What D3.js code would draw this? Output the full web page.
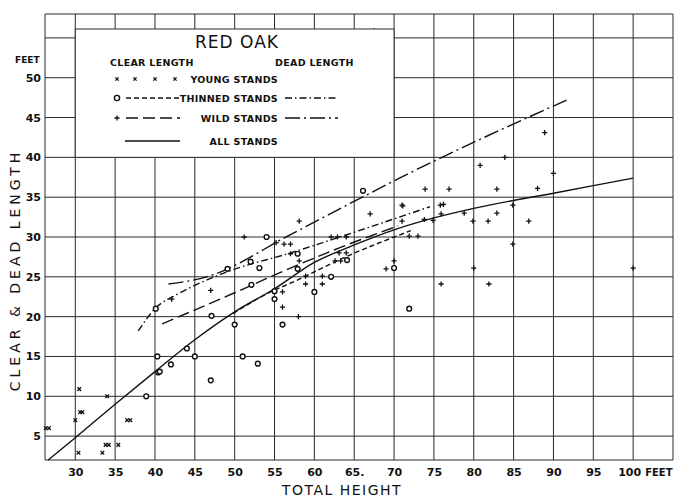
<!DOCTYPE html>
<html>
<head>
<meta charset="utf-8">
<script src="https://cdn.jsdelivr.net/npm/d3@7"></script>
<style>
  body { margin: 0; background: #fff; }
  svg { display: block; }
  .tick text { font-family: "DejaVu Sans", sans-serif; font-weight: bold; font-size: 11px; fill: #111; }
</style>
</head>
<body>
<div id="chart"></div>
<script>
// Tick values
const xTicks = [30, 35, 40, 45, 50, 55, 60, 65, 70, 75, 80, 85, 90, 95, 100];
const yTicks = [5, 10, 15, 20, 25, 30, 35, 40, 45, 50];
const yGrid = [5, 10, 15, 20, 25, 30, 35, 40, 45, 50, 55];

// Points: [total height, length]
const youngStands = [[26.3, 6], [26.7, 6], [30, 7], [30.5, 10.9], [30.6, 8], [30.9, 8], [30.4, 2.9],
    [33.4, 2.9], [33.8, 3.9], [34.2, 3.9], [35.4, 3.9], [34, 10], [36.5, 7], [36.9, 7]];

const thinnedStands = [[38.9, 10], [40.3, 15], [40.4, 13], [40.6, 13.1], [42, 14], [44, 16], [45, 15],
    [47, 12], [51, 15], [52.9, 14.1], [47.1, 20.1], [50, 19], [56, 19], [40.1, 21], [49.1, 26],
    [52, 26.9], [53.1, 26.1], [52.1, 24], [54, 30], [55, 23.2], [55, 22.2], [57.9, 27.9], [57.9, 26],
    [60, 23.1], [62.1, 25], [64.1, 27.1], [66.1, 35.8], [70, 26.1], [71.9, 21]];

const wildStands = [[42.1, 22.2], [47, 23.3], [51.2, 30], [55.2, 29.3], [56.2, 29.1], [57, 29.1],
    [57, 27.9], [58.1, 32], [58.1, 27], [56, 23.1], [56, 21.2], [58, 20], [58.9, 25.1], [58.9, 24.1],
    [61, 25.1], [61, 24.1], [62.1, 30], [62.9, 30], [64, 30], [63.1, 28], [64, 28], [62.6, 27],
    [63.3, 27], [67, 32.9], [69, 26], [70, 27], [71.1, 33.9], [71, 32], [73, 30.1], [71.9, 30.1],
    [73.8, 32.2], [71, 34], [73.9, 36], [76.9, 36], [82.9, 36], [88, 36.1], [75.8, 34], [76.2, 34.1],
    [75.9, 32.9], [78.8, 33], [82.9, 33], [79.9, 32], [81.8, 32], [86.9, 32], [84.9, 34], [84.9, 29.1],
    [74.9, 32.1], [80, 26.1], [100, 26.1], [75.9, 24.1], [81.9, 24.1], [80.8, 39], [83.9, 40],
    [88.9, 43.1], [90, 38], [67.5, 55.9]];

// Curves
const allStands = [[26.6, 2.0], [30, 4.8], [35, 9.0], [40, 13.1], [45, 17.1], [50, 20.6], [55, 23.5],
    [60, 26.8], [65, 29.0], [70, 30.9], [75, 32.4], [80, 33.6], [90, 35.5], [100, 37.4]];
const thinnedClear = [[49.8, 20.4], [54.5, 23.1], [57, 24.2], [64.6, 27.8], [72.1, 30.8]];
const thinnedDead = [[37.9, 18.2], [40, 21.0], [43, 22.9], [49, 25.6], [57, 28.0], [65, 30.6], [74.5, 33.8]];
const wildClear = [[40.9, 19.1], [50, 23.0], [57, 26.1], [63.3, 28.7], [70.5, 31.4]];
const wildDead = [[41.7, 24.1], [46.5, 25.0], [57, 30.3], [63.3, 33.6], [72.5, 38.3], [91.9, 47.3]];

const width = 677, height = 500;
const ink = "#111";

const svg = d3.select("#chart").append("svg")
    .attr("width", width)
    .attr("height", height);

// Scales
const xScale = d3.scaleLinear().domain([26.2, 105]).range([45, 673]);
const yScale = d3.scaleLinear().domain([2, 58]).range([460, 14]);

// Grid
const grid = svg.append("g").attr("stroke", "#2a2a2a").attr("stroke-width", 1);
grid.selectAll(".vline")
    .data(xTicks.concat([26.2, 105]))
    .enter().append("line")
    .attr("x1", d => xScale(d)).attr("x2", d => xScale(d))
    .attr("y1", yScale(2)).attr("y2", yScale(58));
grid.selectAll(".hline")
    .data(yGrid.concat([2, 58]))
    .enter().append("line")
    .attr("x1", xScale(26.2)).attr("x2", xScale(105))
    .attr("y1", d => yScale(d)).attr("y2", d => yScale(d));

// X axis labels
const xAxis = svg.append("g")
    .attr("transform", "translate(0," + yScale(2) + ")")
    .call(d3.axisBottom(xScale).tickValues(xTicks).tickSize(0).tickPadding(8)
        .tickFormat(d => d === 65 ? "65." : d));
xAxis.select(".domain").remove();
xAxis.selectAll(".tick text").filter(d => d === 100).attr("x", -4);

// unit after the last tick label
svg.append("text")
    .attr("x", xScale(100) + 12).attr("y", 476)
    .style("font-family", "DejaVu Sans").style("font-weight", "bold").style("font-size", "10px")
    .attr("fill", ink)
    .text("FEET");

// Y axis labels
const yAxis = svg.append("g")
    .attr("transform", "translate(" + xScale(26.2) + ",0)")
    .call(d3.axisLeft(yScale).tickValues(yTicks).tickSize(0).tickPadding(4));
yAxis.select(".domain").remove();

svg.append("text")
    .attr("x", 15).attr("y", 63)
    .style("font-family", "DejaVu Sans").style("font-weight", "bold").style("font-size", "9px")
    .attr("fill", ink)
    .text("FEET");

// Axis titles
svg.append("text")
    .attr("x", 342).attr("y", 495)
    .attr("text-anchor", "middle")
    .style("font-family", "DejaVu Sans").style("font-size", "14px").style("letter-spacing", "1.5px")
    .attr("fill", ink)
    .text("TOTAL HEIGHT");

svg.append("text")
    .attr("transform", "translate(20,270) rotate(-90)")
    .attr("text-anchor", "middle")
    .style("font-family", "DejaVu Sans").style("font-size", "14px").style("letter-spacing", "4px")
    .attr("fill", ink)
    .text("CLEAR & DEAD LENGTH");

// Line styles
const line = d3.line().x(d => xScale(d[0])).y(d => yScale(d[1])).curve(d3.curveMonotoneX);
const styles = {
    all: null,
    thinnedClear: "5,3",
    thinnedDead: "7,3,1.5,3",
    wildClear: "12,5",
    wildDead: "15,4,2,4"
};
const curves = [
    [allStands, styles.all],
    [thinnedClear, styles.thinnedClear],
    [thinnedDead, styles.thinnedDead],
    [wildClear, styles.wildClear],
    [wildDead, styles.wildDead]
];
svg.append("g").selectAll("path")
    .data(curves)
    .enter().append("path")
    .attr("d", d => line(d[0]))
    .attr("fill", "none")
    .attr("stroke", ink)
    .attr("stroke-width", 1.4)
    .attr("stroke-dasharray", d => d[1]);

// Marker helpers
function drawX(g, px, py, s) {
    g.append("path")
        .attr("d", `M${px - s},${py - s}L${px + s},${py + s}M${px + s},${py - s}L${px - s},${py + s}`)
        .attr("stroke", ink).attr("stroke-width", 1.3);
}
function drawPlus(g, px, py, s) {
    g.append("path")
        .attr("d", `M${px - s},${py}L${px + s},${py}M${px},${py - s}L${px},${py + s}`)
        .attr("stroke", ink).attr("stroke-width", 1.3);
}

const marks = svg.append("g");
youngStands.forEach(d => drawX(marks, xScale(d[0]), yScale(d[1]), 1.8));
wildStands.forEach(d => drawPlus(marks, xScale(d[0]), yScale(d[1]), 2.6));
marks.selectAll("circle")
    .data(thinnedStands)
    .enter().append("circle")
    .attr("cx", d => xScale(d[0]))
    .attr("cy", d => yScale(d[1]))
    .attr("r", 2.4)
    .attr("fill", "#fff")
    .attr("stroke", ink)
    .attr("stroke-width", 1.4);

// Legend box
const legend = svg.append("g");
legend.append("rect")
    .attr("x", xScale(30)).attr("y", 29)
    .attr("width", xScale(70) - xScale(30))
    .attr("height", yScale(40) - 29)
    .attr("fill", "#fff")
    .attr("stroke", "#2a2a2a");

legend.append("text")
    .attr("x", 237).attr("y", 48)
    .attr("text-anchor", "middle")
    .style("font-family", "DejaVu Sans").style("font-size", "17px").style("letter-spacing", "1px")
    .attr("fill", ink)
    .text("RED OAK");

function legendText(x, y, label, anchor) {
    legend.append("text")
        .attr("x", x).attr("y", y)
        .attr("text-anchor", anchor || "start")
        .style("font-family", "DejaVu Sans").style("font-weight", "bold").style("font-size", "9.5px")
        .style("letter-spacing", "0.3px")
        .attr("fill", ink)
        .text(label);
}
legendText(110, 66, "CLEAR LENGTH");
legendText(275, 66, "DEAD LENGTH");
legendText(278, 83, "YOUNG STANDS", "end");
legendText(278, 102, "THINNED STANDS", "end");
legendText(278, 122, "WILD STANDS", "end");
legendText(278, 145, "ALL STANDS", "end");

[117, 135, 155, 175].forEach(px => drawX(legend, px, 79, 1.6));
legend.append("circle")
    .attr("cx", 117).attr("cy", 98).attr("r", 2.6)
    .attr("fill", "#fff").attr("stroke", ink).attr("stroke-width", 1.4);
drawPlus(legend, 117, 118, 2.6);

const legendLines = [
    [126, 180, 98, styles.thinnedClear],
    [285, 338, 98, styles.thinnedDead],
    [126, 180, 118, styles.wildClear],
    [285, 338, 118, styles.wildDead],
    [125, 180, 141, styles.all]
];
legend.selectAll(".ll")
    .data(legendLines)
    .enter().append("line")
    .attr("x1", d => d[0]).attr("x2", d => d[1])
    .attr("y1", d => d[2]).attr("y2", d => d[2])
    .attr("stroke", ink)
    .attr("stroke-width", 1.3)
    .attr("stroke-dasharray", d => d[3]);
</script>
</body>
</html>
